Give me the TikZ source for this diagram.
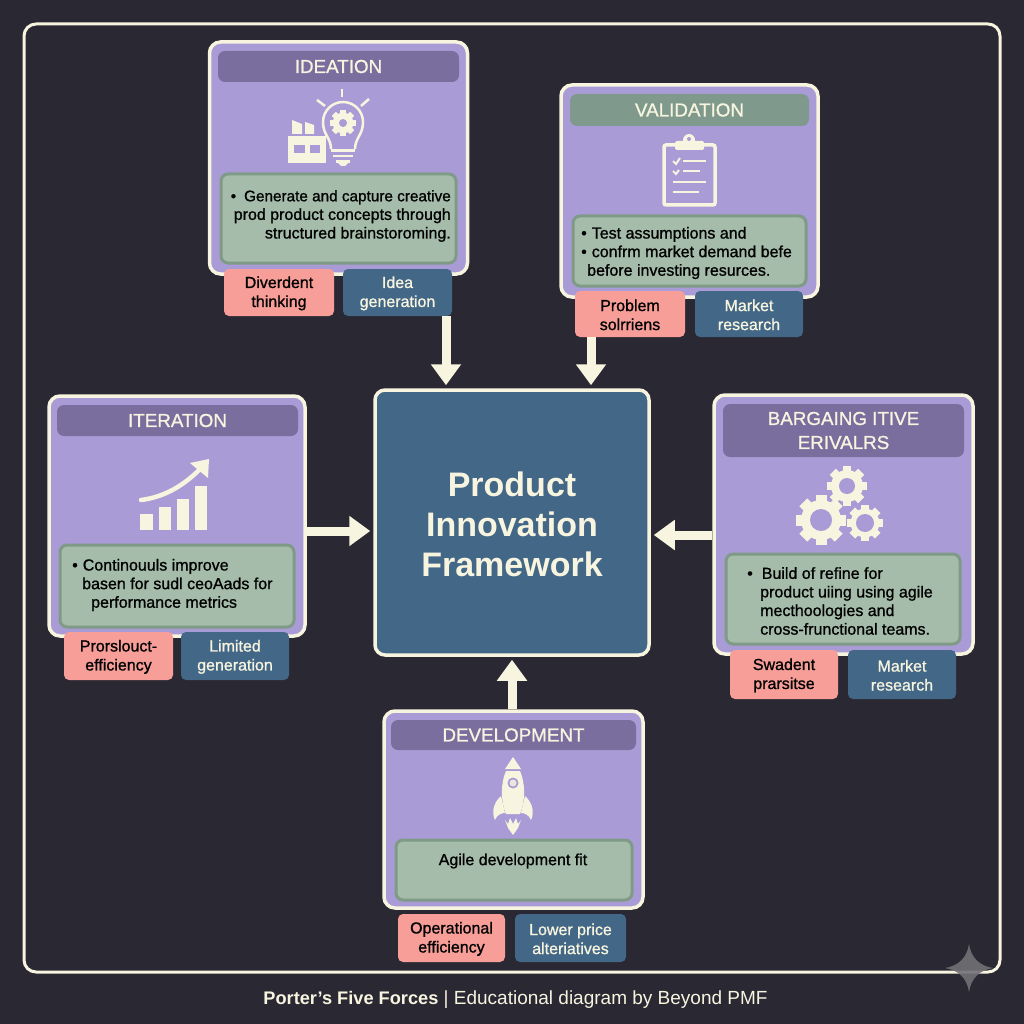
\documentclass[tikz,border=0pt]{standalone}
\usepackage{fontspec}
\usepackage{tikz}
\usetikzlibrary{arrows.meta}
\setmainfont{Liberation Sans}
\newfontfamily\medfont{Liberation Sans}[FakeBold=1]
\definecolor{mbg}{rgb}{0.165, 0.157, 0.2}
\definecolor{mcream}{rgb}{0.97, 0.955, 0.875}
\definecolor{mcard}{rgb}{0.663, 0.612, 0.84}
\definecolor{mhead}{rgb}{0.478, 0.431, 0.624}
\definecolor{mheadg}{rgb}{0.498, 0.604, 0.549}
\definecolor{mbody}{rgb}{0.643, 0.737, 0.663}
\definecolor{medge}{rgb}{0.498, 0.604, 0.525}
\definecolor{mpink}{rgb}{0.969, 0.62, 0.596}
\definecolor{mblue}{rgb}{0.263, 0.404, 0.525}
\tikzset{card/.style = {draw = mcream, fill = mcard, line width = 3.5pt, rounded corners = 11pt, inner sep = 0}}
\tikzset{head/.style = {fill = mhead, rounded corners = 7pt, inner sep = 0, text = mcream, align = center, font = \medfont\fontsize{18.8}{24}\selectfont}}
\tikzset{body/.style = {draw = medge, fill = mbody, line width = 3pt, rounded corners = 7pt, inner sep = 0}}
\tikzset{bodytext/.style = {inner sep = 0, text = black, font = \medfont\fontsize{16}{18.6}\selectfont}}
\tikzset{tagred/.style = {fill = mpink, rounded corners = 5pt, inner sep = 0, text = black, align = center, font = \medfont\fontsize{16}{19}\selectfont}}
\tikzset{tagblue/.style = {fill = mblue, rounded corners = 5pt, inner sep = 0, text = mcream, align = center, font = \medfont\fontsize{16}{19}\selectfont}}
\tikzset{flow/.style = {draw = mcream, line width = 9pt, shorten > = 3pt, -{Triangle[width = 29pt, length = 21pt]}}}
\newcommand{\cogicon}[3]{
  \begin{scope}[shift = {#1}]
    \foreach \a in {0, 45, ..., 315} {
      \fill [mcream, rotate = \a] (-0.22*#2, 0) rectangle (0.22*#2, #2);
    }
    \fill [mcream] circle [radius = 0.8*#2];
    \fill [mcard] circle [radius = #3];
  \end{scope}
}
\begin{document}
\begin{tikzpicture}[x = 1pt, y = -1pt]
    \useasboundingbox (0, 0) rectangle (1024, 1024);
    \fill [mbg] (0, 0) rectangle (1024, 1024);
    \draw [mcream, line width = 3pt, rounded corners = 12pt] (24, 24) rectangle (1000, 972);

    \node [card, minimum width = 258, minimum height = 232] (ideacard) at (338.5, 158) {};
    \node [head, minimum width = 241, minimum height = 31] (ideahead) at (338.5, 66.5) {IDEATION};
    \node [body, minimum width = 235, minimum height = 89] (ideabody) at (338.5, 218.5) {};
    \node [bodytext, align = right, anchor = east] (ideatext) at (451, 216) {{\fontsize{15.3}{18.6}\selectfont •\hspace{8pt}Generate and capture creative}\\prod product concepts through\\structured brainstoroming.};
    \node [tagred, minimum width = 110, minimum height = 47] (ideared) at (279, 292.5) {\strut Diverdent\\thinking};
    \node [tagblue, minimum width = 109, minimum height = 47] (ideablue) at (397.5, 292.5) {\strut Idea\\generation};

    \node [card, minimum width = 257, minimum height = 212] (valcard) at (689.5, 191) {};
    \node [head, fill = mheadg, minimum width = 239, minimum height = 32] (valhead) at (689.5, 110) {VALIDATION};
    \node [body, minimum width = 233, minimum height = 70] (valbody) at (689.5, 251) {};
    \node [bodytext, align = left, anchor = west] (valtext) at (581, 253) {•\hspace{5pt}Test assumptions and\\•\hspace{5pt}confrm market demand befe\\\hspace{6pt}before investing resurces.};
    \node [tagred, minimum width = 110, minimum height = 46] (valred) at (630, 314) {\strut Problem\\solrriens};
    \node [tagblue, minimum width = 108, minimum height = 46] (valblue) at (749, 314) {\strut Market\\research};

    \node [card, minimum width = 256, minimum height = 240] (itercard) at (177, 516) {};
    \node [head, minimum width = 241, minimum height = 31] (iterhead) at (177.5, 420.5) {ITERATION};
    \node [body, minimum width = 234, minimum height = 82] (iterbody) at (177, 586) {};
    \node [bodytext, align = left, anchor = west] (itertext) at (72, 585) {•\hspace{5pt}Continouuls improve\\\hspace{10pt}basen for sudl ceoAads for\\\hspace{19pt}performance metrics};
    \node [tagred, minimum width = 109, minimum height = 48] (iterred) at (118.5, 656) {\strut Prorslouct-\\efficiency};
    \node [tagblue, minimum width = 108, minimum height = 48] (iterblue) at (235, 656) {\strut Limited\\generation};

    \node [card, minimum width = 259, minimum height = 259] (barcard) at (843.5, 524.5) {};
    \node [head, minimum width = 241, minimum height = 53] (barhead) at (843.5, 430.5) {BARGAING ITIVE\\ERIVALRS};
    \node [body, minimum width = 234, minimum height = 90] (barbody) at (843, 599) {};
    \node [bodytext, align = left, anchor = west] (bartext) at (747, 601) {•\hspace{9pt}Build of refine for\\\hspace{13pt}product uiing using agile\\\hspace{13pt}mecthoologies and\\\hspace{13pt}cross-frunctional teams.};
    \node [tagred, minimum width = 108, minimum height = 49] (barred) at (784, 674.5) {\strut Swadent\\prarsitse};
    \node [tagblue, minimum width = 108, minimum height = 49] (barblue) at (902, 674.5) {\strut Market\\research};

    \node [card, minimum width = 259, minimum height = 197] (devcard) at (513.5, 809.5) {};
    \node [head, minimum width = 245, minimum height = 30] (devhead) at (513.5, 735) {DEVELOPMENT};
    \node [body, minimum width = 236, minimum height = 60] (devbody) at (514, 870) {};
    \node [bodytext] (devtext) at (513, 861) {Agile development fit};
    \node [tagred, minimum width = 107, minimum height = 48] (devred) at (451.5, 938) {\strut Operational\\efficiency};
    \node [tagblue, minimum width = 111, minimum height = 48] (devblue) at (570.5, 938) {\strut Lower price\\alteriatives};

    \node [draw = mcream, fill = mblue, line width = 3.5pt, rounded corners = 10pt, inner sep = 0, minimum width = 274, minimum height = 265] (core) at (512, 522.5) {};
    \node [inner sep = 0, text = mcream, align = center, font = \bfseries\fontsize{34}{40}\selectfont] (coretext) at (512, 524.5) {Product\\Innovation\\Framework};

    \draw [flow] (446, 0 |- ideablue.south) -- (446, 0 |- core.north);
    \draw [flow] (591, 0 |- valred.south) -- (591, 0 |- core.north);
    \draw [flow] (itercard.east |- 0, 531) -- (core.west |- 0, 531);
    \draw [flow] (barcard.west |- 0, 535) -- (core.east |- 0, 535);
    \draw [flow] (512, 0 |- devcard.north) -- (512, 0 |- core.south);

    \draw [mcream, line width = 2.5pt] (331, 149) .. controls (331, 138) and (323, 135) .. (323, 122) arc [start angle = 180, end angle = 360, radius = 20] .. controls (363, 135) and (355, 138) .. (355, 149);
    \fill [mcream] (331, 149) rectangle (355, 152);
    \draw [mcream, line width = 2.5pt] (333, 156) -- (353, 156);
    \fill [mcream] (336, 160) rectangle (350, 163);
    \fill [mcream] (338, 163) -- (348, 163) -- (345, 166) -- (341, 166) -- cycle;
    \draw [mcream, line width = 2.5pt] (342, 89) -- (342, 97);
    \draw [mcream, line width = 2.5pt] (317, 100) -- (325, 106);
    \draw [mcream, line width = 2.5pt] (369, 99) -- (361, 106);
    \cogicon{(343, 123)}{13}{4}
    \fill [mcream] (288, 136) rectangle (326, 163);
    \fill [mcard] (294, 145) rectangle (305, 153);
    \fill [mcard] (310, 145) rectangle (320, 153);
    \fill [mcream] (292, 120) -- (302, 124) -- (302, 134) -- (292, 134) -- cycle;
    \fill [mcream] (305, 122) -- (314, 125) -- (314, 134) -- (305, 134) -- cycle;

    \draw [mcream, line width = 3.5pt, rounded corners = 2pt] (664, 145) rectangle (715, 205);
    \fill [mcream, rounded corners = 1.5pt] (675, 141) rectangle (704, 150);
    \fill [mcream] (689, 140) circle [radius = 6];
    \fill [mcard] (689, 139) circle [radius = 2];
    \draw [mcream, line width = 2.5pt] (683, 161) -- (706, 161);
    \draw [mcream, line width = 2.5pt] (683, 171) -- (700, 171);
    \draw [mcream, line width = 2.5pt] (673, 182) -- (706, 182);
    \draw [mcream, line width = 2.5pt] (673, 192) -- (699, 192);
    \draw [mcream, line width = 2pt] (673, 161) -- (676, 164) -- (680, 158);
    \draw [mcream, line width = 2pt] (673, 171) -- (676, 174) -- (679, 170);

    \fill [mcream] (140, 514) rectangle (153, 530);
    \fill [mcream] (159, 507) rectangle (171, 530);
    \fill [mcream] (177, 499) rectangle (189, 530);
    \fill [mcream] (195, 486) rectangle (207, 530);
    \draw [mcream, line width = 4.5pt, line cap = round] (141, 500) .. controls (165, 497) and (185, 485) .. (203, 466);
    \fill [mcream] (209, 459) -- (208, 478) -- (190, 463) -- cycle;

    \cogicon{(821, 520)}{25}{11}
    \cogicon{(847, 486)}{20}{8}
    \cogicon{(865, 523)}{18}{9}

    \fill [mcream] (513, 757) -- (521, 769) -- (505, 769) -- cycle;
    \fill [mcream] (506, 771) -- (520, 771) .. controls (525, 782) and (526, 800) .. (520, 814) -- (506, 814) .. controls (500, 800) and (501, 782) .. (506, 771) -- cycle;
    \fill [mcard] (513, 783) circle [radius = 5.5];
    \fill [mcream!85!mcard] (513, 783) circle [radius = 3.5];
    \fill [mcream] (501, 796) .. controls (494, 802) and (491, 812) .. (495, 820) .. controls (497, 815) and (501, 813) .. (505, 813) -- cycle;
    \fill [mcream] (525, 796) .. controls (532, 802) and (535, 812) .. (531, 820) .. controls (529, 815) and (525, 813) .. (521, 813) -- cycle;
    \fill [mcream] (505, 820) -- (508, 824) -- (510, 818) -- (513, 824) -- (516, 818) -- (518, 824) -- (521, 820) -- (518, 828) -- (513, 835) -- (508, 828) -- cycle;

    \node [inner sep = 0, text = mcream, font = \fontsize{19}{24}\selectfont] (footer) at (515.5, 1000) {{\fontsize{18.2}{24}\selectfont\bfseries Porter’s Five Forces} | Educational diagram by Beyond PMF};

    \fill [gray!55!mbg!85!white, opacity = 0.9] (969, 944) .. controls (971, 958) and (980, 966) .. (993, 968) .. controls (980, 970) and (971, 978) .. (969, 992) .. controls (967, 978) and (958, 970) .. (945, 968) .. controls (958, 966) and (967, 958) .. (969, 944) -- cycle;
\end{tikzpicture}
\end{document}
